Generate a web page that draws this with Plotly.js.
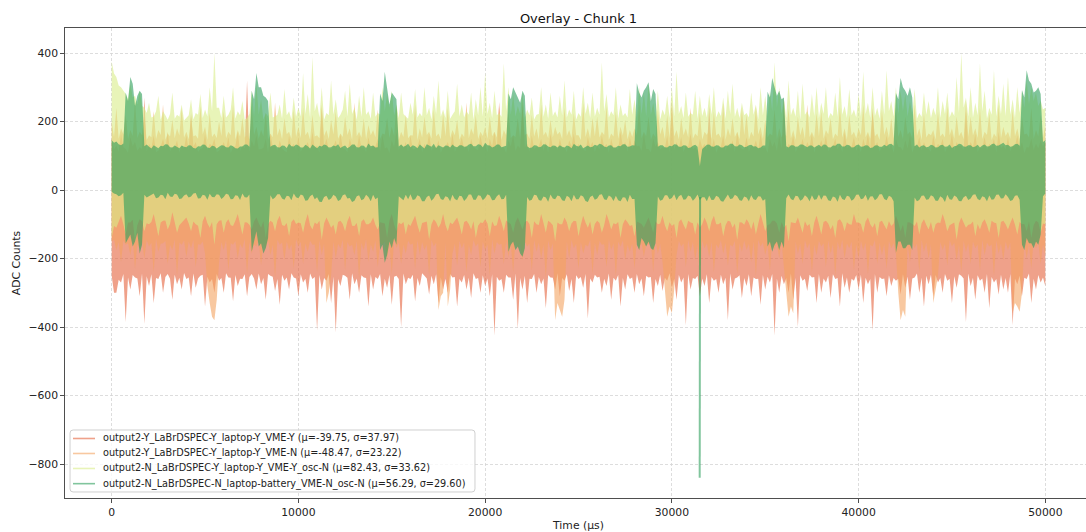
<!DOCTYPE html>
<html><head><meta charset="utf-8">
<script src="https://cdn.plot.ly/plotly-3.0.1.min.js"></script>
<style>html,body{margin:0;padding:0;overflow:hidden;background:#fff}#chart{width:1093px;height:532px}</style>
</head><body><div id="chart"></div><script>
// Time axis (µs): envelope read every 125 µs
const timeUs = [
0,125,250,375,500,625,750,875,1000,1125,1250,1375,1500,1625,1750,1875,
2000,2125,2250,2375,2500,2625,2750,2875,3000,3125,3250,3375,3500,3625,3750,3875,
4000,4125,4250,4375,4500,4625,4750,4875,5000,5125,5250,5375,5500,5625,5750,5875,
6000,6125,6250,6375,6500,6625,6750,6875,7000,7125,7250,7375,7500,7625,7750,7875,
8000,8125,8250,8375,8500,8625,8750,8875,9000,9125,9250,9375,9500,9625,9750,9875,
10000,10125,10250,10375,10500,10625,10750,10875,11000,11125,11250,11375,11500,11625,11750,11875,
12000,12125,12250,12375,12500,12625,12750,12875,13000,13125,13250,13375,13500,13625,13750,13875,
14000,14125,14250,14375,14500,14625,14750,14875,15000,15125,15250,15375,15500,15625,15750,15875,
16000,16125,16250,16375,16500,16625,16750,16875,17000,17125,17250,17375,17500,17625,17750,17875,
18000,18125,18250,18375,18500,18625,18750,18875,19000,19125,19250,19375,19500,19625,19750,19875,
20000,20125,20250,20375,20500,20625,20750,20875,21000,21125,21250,21375,21500,21625,21750,21875,
22000,22125,22250,22375,22500,22625,22750,22875,23000,23125,23250,23375,23500,23625,23750,23875,
24000,24125,24250,24375,24500,24625,24750,24875,25000,25125,25250,25375,25500,25625,25750,25875,
26000,26125,26250,26375,26500,26625,26750,26875,27000,27125,27250,27375,27500,27625,27750,27875,
28000,28125,28250,28375,28500,28625,28750,28875,29000,29125,29250,29375,29500,29625,29750,29875,
30000,30125,30250,30375,30500,30625,30750,30875,31000,31125,31250,31375,31500,31625,31750,31875,
32000,32125,32250,32375,32500,32625,32750,32875,33000,33125,33250,33375,33500,33625,33750,33875,
34000,34125,34250,34375,34500,34625,34750,34875,35000,35125,35250,35375,35500,35625,35750,35875,
36000,36125,36250,36375,36500,36625,36750,36875,37000,37125,37250,37375,37500,37625,37750,37875,
38000,38125,38250,38375,38500,38625,38750,38875,39000,39125,39250,39375,39500,39625,39750,39875,
40000,40125,40250,40375,40500,40625,40750,40875,41000,41125,41250,41375,41500,41625,41750,41875,
42000,42125,42250,42375,42500,42625,42750,42875,43000,43125,43250,43375,43500,43625,43750,43875,
44000,44125,44250,44375,44500,44625,44750,44875,45000,45125,45250,45375,45500,45625,45750,45875,
46000,46125,46250,46375,46500,46625,46750,46875,47000,47125,47250,47375,47500,47625,47750,47875,
48000,48125,48250,48375,48500,48625,48750,48875,49000,49125,49250,49375,49500,49625,49750,49875,
50000];

const seriesNames = [
"output2-Y_LaBrDSPEC-Y_laptop-Y_VME-Y (μ=-39.75, σ=37.97)",
"output2-Y_LaBrDSPEC-Y_laptop-Y_VME-N (μ=-48.47, σ=23.22)",
"output2-N_LaBrDSPEC-Y_laptop-Y_VME-Y_osc-N (μ=82.43, σ=33.62)",
"output2-N_LaBrDSPEC-N_laptop-battery_VME-N_osc-N (μ=56.29, σ=29.60)"];

// Series 1 (VME-Y): upper / lower envelope (ADC counts)
const vmeYHigh = [
150,118,130,112,165,125,120,108,155,128,140,115,125,120,270,112,
135,122,160,110,115,127,150,119,170,113,125,124,145,109,130,121,
160,116,225,126,140,111,120,123,165,117,135,129,150,110,115,125,
140,120,155,108,125,128,170,114,130,121,320,112,145,126,160,118,
120,123,150,109,165,127,130,115,145,122,115,110,160,125,135,117,
155,112,125,128,140,116,170,121,130,109,240,124,150,118,120,127,
145,114,165,122,120,110,150,126,135,117,160,123,125,111,155,120,
130,128,150,113,160,121,125,108,145,125,170,116,135,122,140,112,
160,119,120,127,150,110,135,124,165,115,130,121,145,109,125,126,
140,117,165,112,125,128,155,120,130,111,150,125,120,116,160,122,
135,110,150,126,170,118,257,123,125,108,145,127,160,114,130,121,
257,125,135,112,160,120,125,128,150,115,140,109,165,124,130,117,
150,122,125,110,145,127,165,116,135,121,120,113,155,126,140,111,
130,118,160,125,135,109,150,123,125,117,170,128,140,112,155,120,
145,127,130,114,165,120,120,110,150,126,140,118,125,122,160,108,
262,116,140,123,155,111,130,128,165,119,125,113,150,124,135,117,
245,121,150,109,125,126,160,115,135,122,145,110,170,127,120,118,
155,112,130,125,145,118,165,123,125,108,150,126,140,114,160,121,
270,117,135,128,160,111,125,122,150,116,140,124,165,109,130,125,
145,123,160,113,125,127,150,118,135,110,170,121,130,126,155,115,
130,110,150,124,165,117,240,128,140,112,125,122,160,119,135,108,
150,126,125,115,145,121,160,109,130,127,155,116,140,123,120,112,
160,118,135,127,150,110,125,124,165,114,140,128,130,117,230,121,
140,125,165,111,125,122,155,116,135,126,150,109,170,123,130,118,
155,113,130,127,160,120,140,108,125,124,150,117,135,121,145,126,
140];
const vmeYLow = [
-250,-300,-300,-262,-270,-245,-385,-255,-290,-248,-255,-258,-310,-244,-390,-252,
-280,-246,-330,-257,-260,-243,-300,-254,-245,-259,-320,-247,-275,-256,-290,-242,
-260,-255,-310,-244,-285,-258,-250,-247,-340,-253,-270,-260,-300,-245,-265,-257,
-300,-243,-255,-256,-325,-248,-280,-259,-260,-246,-310,-254,-245,-258,-290,-244,
-275,-257,-320,-245,-250,-253,-295,-260,-335,-247,-265,-255,-290,-243,-255,-258,
-310,-246,-270,-259,-300,-244,-260,-254,-410,-248,-290,-257,-265,-245,-330,-253,
-415,-260,-280,-247,-250,-256,-320,-243,-275,-258,-300,-249,-255,-257,-340,-246,
-290,-254,-260,-245,-310,-259,-285,-248,-335,-253,-250,-260,-400,-244,-275,-256,
-260,-247,-325,-257,-280,-243,-250,-258,-305,-250,-275,-246,-330,-255,-290,-259,
-300,-245,-255,-254,-340,-260,-270,-248,-290,-256,-315,-243,-260,-257,-300,-249,
-280,-258,-310,-246,-425,-253,-265,-260,-300,-247,-255,-255,-320,-244,-405,-257,
-290,-250,-330,-259,-260,-245,-300,-254,-275,-258,-345,-248,-255,-256,-290,-243,
-310,-257,-265,-246,-295,-260,-330,-249,-260,-254,-285,-245,-375,-258,-270,-247,
-255,-253,-300,-259,-280,-244,-320,-256,-265,-248,-340,-257,-290,-246,-260,-255,
-300,-245,-275,-258,-310,-250,-255,-254,-330,-260,-280,-247,-295,-256,-265,-243,
-285,-259,-320,-248,-270,-255,-395,-245,-290,-257,-260,-250,-310,-258,-280,-246,
-330,-254,-265,-260,-300,-247,-275,-256,-380,-244,-290,-258,-255,-249,-315,-257,
-280,-246,-310,-255,-260,-259,-335,-248,-290,-253,-270,-245,-425,-258,-300,-250,
-275,-257,-300,-244,-320,-256,-400,-249,-265,-259,-295,-247,-255,-254,-330,-245,
-300,-258,-270,-250,-315,-246,-260,-257,-340,-243,-285,-255,-300,-259,-265,-248,
-290,-247,-330,-256,-275,-260,-410,-245,-300,-254,-260,-258,-310,-249,-280,-257,
-265,-259,-305,-246,-285,-253,-320,-258,-255,-244,-300,-256,-340,-250,-275,-247,
-310,-248,-270,-257,-300,-245,-265,-259,-330,-252,-285,-246,-250,-258,-385,-244,
-280,-256,-320,-249,-265,-258,-300,-245,-345,-254,-270,-260,-305,-247,-290,-257,
-300,-245,-395,-258,-275,-250,-310,-256,-260,-244,-330,-259,-290,-248,-270,-255,
-280];

// Series 2 (VME-N): upper / lower envelope
const vmeNHigh = [
200,155,240,150,180,162,220,148,175,158,260,152,170,160,215,146,
160,154,230,149,175,161,250,147,165,156,205,151,180,159,240,153,
170,148,215,157,160,150,245,162,185,146,225,155,165,152,200,158,
230,151,170,160,250,147,175,156,210,153,160,149,240,161,185,150,
175,157,225,146,165,154,255,159,180,148,210,163,170,150,235,155,
185,152,240,160,170,147,220,156,160,151,250,158,175,149,205,162,
230,150,165,155,215,161,180,146,255,157,170,153,210,148,190,160,
175,154,235,149,165,162,210,152,185,158,245,147,170,155,220,151,
160,159,250,146,180,153,215,161,170,150,235,156,165,148,225,157,
240,152,175,160,205,147,165,155,255,151,180,162,220,149,170,158,
185,150,215,157,170,153,245,146,175,160,230,152,160,155,210,148,
235,161,165,150,220,156,180,147,250,159,170,151,205,154,185,162,
170,149,240,158,175,152,225,160,160,146,255,155,180,150,210,157,
215,153,170,161,245,147,165,156,230,150,185,159,205,148,175,155,
180,160,250,151,170,157,215,146,165,154,235,162,185,149,220,152,
245,156,175,148,210,160,180,153,240,150,165,157,225,147,170,161,
175,150,230,159,165,152,255,146,180,158,210,155,170,149,240,160,
220,147,170,156,245,162,185,150,205,153,165,159,235,148,180,154,
165,158,240,151,175,146,215,160,185,149,250,155,170,152,225,157,
230,150,175,162,210,148,165,156,245,153,180,147,220,159,170,151,
180,160,250,154,170,150,225,157,165,146,235,161,185,152,210,149,
240,155,175,148,215,162,170,151,250,158,180,146,225,153,165,160,
175,147,230,156,165,153,245,160,180,150,215,157,170,148,260,155,
215,159,180,152,240,149,170,161,225,146,165,155,250,151,185,158,
170,150,235,157,180,147,215,162,165,153,240,149,175,156,220,152,
190];
const vmeNLow = [
-150,-145,-175,-152,-210,-148,-160,-155,-190,-143,-230,-158,-170,-150,-200,-146,
-165,-154,-240,-142,-180,-157,-155,-149,-215,-160,-175,-144,-250,-153,-160,-147,
-195,-151,-170,-145,-225,-158,-160,-150,-185,-280,-330,-370,-380,-320,-210,-152,
-175,-146,-235,-155,-160,-149,-200,-157,-170,-143,-245,-152,-185,-159,-165,-148,
-220,-154,-170,-147,-190,-160,-255,-145,-160,-153,-205,-150,-175,-158,-230,-144,
-165,-151,-215,-156,-180,-148,-160,-159,-240,-146,-190,-155,-330,-300,-250,-150,
-200,-157,-170,-145,-235,-152,-165,-160,-190,-149,-260,-154,-175,-143,-210,-158,
-180,-147,-225,-155,-160,-150,-200,-157,-245,-144,-170,-153,-215,-160,-185,-148,
-160,-156,-230,-146,-190,-152,-175,-159,-250,-145,-165,-154,-350,-310,-300,-151,
-340,-290,-185,-157,-220,-148,-170,-153,-240,-160,-190,-146,-165,-155,-225,-150,
-175,-158,-250,-144,-185,-152,-160,-157,-215,-149,-195,-160,-240,-147,-170,-154,
-205,-151,-165,-156,-235,-145,-180,-153,-200,-159,-255,-148,-175,-155,-380,-330,
-350,-370,-320,-150,-200,-146,-170,-157,-230,-152,-185,-160,-165,-145,-245,-153,
-190,-149,-160,-158,-225,-144,-175,-155,-250,-151,-165,-147,-205,-160,-180,-156,
-230,-146,-175,-154,-195,-159,-160,-150,-240,-147,-185,-157,-210,-300,-370,-340,
-360,-290,-190,-149,-165,-156,-225,-145,-180,-152,-205,-160,-250,-148,-170,-155,
-195,-151,-240,-158,-170,-146,-185,-154,-220,-160,-165,-149,-245,-155,-180,-147,
-175,-157,-210,-150,-250,-145,-165,-153,-190,-159,-235,-148,-175,-156,-200,-152,
-230,-300,-370,-340,-360,-150,-185,-157,-215,-146,-170,-154,-240,-160,-190,-149,
-165,-155,-225,-147,-185,-158,-250,-151,-175,-145,-200,-156,-170,-150,-235,-159,
-200,-148,-175,-154,-245,-160,-165,-146,-215,-153,-190,-157,-230,-149,-170,-155,
-185,-300,-380,-350,-370,-160,-210,-151,-170,-156,-240,-145,-180,-153,-200,-158,
-330,-290,-250,-152,-175,-157,-220,-146,-165,-154,-205,-160,-240,-148,-180,-155,
-215,-150,-170,-158,-235,-145,-190,-153,-165,-159,-250,-147,-185,-156,-205,-150,
-175,-154,-360,-330,-340,-355,-300,-149,-200,-157,-230,-146,-170,-152,-215,-158,
-190];

// Series 3 (laptop-Y, osc-N): upper / lower envelope
const oscHigh = [
375,340,330,305,300,290,280,265,310,270,275,250,290,245,240,225,
255,212,215,230,275,205,230,218,205,222,285,208,220,214,250,203,
210,218,265,206,225,220,280,210,235,215,300,230,400,240,240,210,
275,212,220,235,300,208,230,218,260,205,210,222,290,215,310,220,
265,205,225,215,285,212,215,220,250,208,295,218,230,206,270,214,
240,215,342,222,280,210,388,230,255,212,300,205,225,218,320,220,
265,210,220,235,290,215,310,222,240,205,275,214,300,220,230,208,
285,214,225,220,300,230,280,240,290,218,250,210,285,222,215,208,
255,220,295,212,225,215,300,218,240,206,275,222,320,214,235,210,
290,208,220,230,310,215,250,212,230,220,285,205,265,218,300,215,
342,222,255,210,290,218,225,214,370,230,300,220,280,215,245,222,
285,210,235,218,270,206,220,222,300,214,250,208,285,216,230,212,
275,218,320,212,235,220,290,206,225,214,300,222,255,210,285,215,
240,220,373,230,280,212,230,218,300,208,250,216,225,212,295,220,
265,210,300,222,285,215,310,220,255,212,290,206,235,218,275,210,
300,215,345,222,245,210,285,214,225,220,290,208,275,216,240,212,
280,220,300,212,230,216,270,208,290,222,310,214,240,210,255,218,
225,212,285,220,250,206,300,218,275,214,290,230,373,240,300,222,
265,210,320,218,240,214,290,206,310,220,230,212,280,216,300,210,
255,222,300,208,225,216,285,214,330,220,245,210,295,218,235,212,
280,214,345,222,255,210,300,216,240,208,290,220,350,230,260,215,
300,222,290,230,280,215,260,218,295,208,225,214,285,220,260,210,
240,218,300,210,260,222,285,212,230,216,330,225,400,240,270,214,
300,212,255,218,370,230,290,208,240,220,350,215,275,222,310,216,
330,220,265,210,300,225,290,240,320,250,300,260,285,245,260,235,
240];
const oscLow = [
-140,-105,-110,-93,-75,-100,-130,-95,-95,-87,-150,-103,-85,-91,-120,-97,
-100,-93,-70,-101,-135,-95,-90,-89,-115,-99,-65,-94,-125,-103,-95,-90,
-80,-98,-120,-92,-100,-104,-140,-91,-75,-97,-110,-93,-160,-100,-90,-88,
-125,-95,-85,-103,-105,-90,-70,-99,-130,-94,-95,-101,-115,-92,-80,-97,
-110,-91,-140,-100,-90,-95,-120,-89,-75,-102,-105,-96,-135,-93,-85,-99,
-95,-97,-125,-92,-70,-103,-115,-95,-100,-90,-145,-98,-80,-94,-110,-101,
-130,-93,-90,-99,-120,-91,-75,-104,-105,-96,-135,-92,-85,-100,-100,-95,
-80,-102,-115,-94,-95,-98,-140,-90,-70,-101,-120,-95,-100,-93,-130,-99,
-105,-91,-75,-103,-125,-96,-95,-92,-145,-100,-85,-94,-110,-98,-70,-102,
-120,-95,-100,-90,-80,-101,-130,-93,-90,-99,-115,-91,-140,-104,-95,-96,
-85,-98,-135,-92,-105,-103,-75,-95,-120,-89,-95,-100,-125,-94,-80,-101,
-115,-93,-90,-99,-140,-91,-100,-102,-70,-96,-125,-90,-95,-103,-150,-95,
-100,-100,-80,-94,-120,-98,-90,-91,-135,-101,-75,-95,-110,-92,-130,-99,
-90,-96,-125,-103,-70,-90,-115,-97,-100,-93,-140,-100,-85,-94,-105,-102,
-135,-92,-95,-99,-110,-95,-80,-101,-125,-91,-100,-98,-75,-103,-120,-94,
-105,-99,-140,-93,-85,-102,-115,-90,-95,-97,-130,-94,-110,-100,-80,-96,
-120,-91,-75,-100,-100,-95,-135,-103,-90,-92,-110,-98,-145,-94,-95,-101,
-85,-96,-115,-92,-130,-99,-70,-95,-120,-102,-100,-90,-90,-98,-125,-93,
-110,-101,-150,-94,-95,-97,-80,-103,-125,-91,-105,-99,-135,-95,-75,-100,
-130,-93,-90,-98,-115,-102,-140,-90,-85,-96,-120,-94,-100,-101,-70,-95,
-95,-99,-125,-92,-80,-100,-110,-96,-135,-93,-90,-103,-115,-91,-105,-98,
-75,-95,-120,-101,-140,-94,-95,-99,-105,-92,-130,-97,-85,-102,-115,-93,
-125,-100,-95,-96,-70,-91,-120,-103,-100,-95,-145,-98,-80,-94,-110,-101,
-100,-92,-135,-99,-115,-95,-85,-102,-125,-90,-95,-97,-140,-93,-90,-100,
-115,-96,-80,-101,-130,-93,-100,-99,-120,-92,-140,-103,-90,-95,-125,-98,
-100];

// Series 4 (laptop-battery, osc-N): upper / lower envelope
const batteryHigh = [
145,138,142,134,131,136,285,260,330,310,245,275,290,280,128,133,
126,121,131,127,122,129,128,134,133,125,124,130,127,122,130,126,
125,131,130,123,121,128,127,133,132,124,123,129,128,121,126,131,
130,125,124,131,128,122,121,127,127,133,133,126,290,265,342,300,
300,275,270,260,126,131,132,125,124,130,129,123,135,128,127,133,
130,124,124,132,128,121,133,127,122,129,127,133,131,124,125,130,
128,134,123,127,130,122,126,133,133,125,124,130,129,123,136,128,
130,124,125,282,260,345,300,250,285,275,265,127,133,126,129,135,
125,131,128,122,133,127,121,134,129,126,135,123,131,128,124,130,
129,124,133,127,125,131,131,126,127,133,135,128,128,134,132,125,
138,131,130,124,127,133,133,125,126,129,282,265,300,285,270,255,
290,275,128,123,124,131,130,125,126,134,133,127,125,130,129,124,
131,126,124,130,128,122,135,129,127,133,122,127,130,125,126,132,
129,135,133,127,125,130,131,124,124,129,128,134,134,126,127,131,
130,312,285,270,290,300,315,260,295,280,126,131,131,125,124,129,
128,134,133,126,126,131,130,123,124,129,132,126,70,120,127,132,
133,127,126,131,130,124,124,130,129,135,135,128,127,133,131,125,
126,131,132,127,128,122,124,130,130,287,270,327,300,275,290,265,
270,128,124,131,131,126,127,133,133,128,125,130,130,124,127,132,
126,133,132,125,124,130,129,135,135,127,127,132,131,124,125,131,
133,126,127,131,130,123,124,130,131,126,126,132,128,134,135,129,
283,265,327,300,290,275,300,270,128,133,124,129,131,125,126,132,
130,124,125,131,132,126,127,133,123,128,129,135,134,127,126,131,
131,125,127,132,124,130,133,127,128,134,136,129,130,135,138,131,
132,126,128,134,135,129,292,270,350,320,310,285,290,300,280,140,
145];
const batteryLow = [
-5,-10,-12,-18,-15,-8,-155,-140,-130,-165,-150,-125,-185,-160,-14,-22,
-18,-12,-10,-24,-22,-14,-15,-27,-8,-19,-20,-11,-13,-26,-25,-16,
-12,-22,-19,-10,-9,-25,-24,-14,-16,-28,-11,-20,-21,-12,-14,-26,
-20,-11,-13,-27,-26,-15,-17,-29,-10,-21,-22,-13,-180,-150,-120,-165,
-155,-185,-170,-140,-15,-27,-22,-12,-12,-25,-28,-17,-18,-30,-10,-21,
-24,-13,-16,-31,-30,-18,-13,-27,-21,-34,-35,-20,-17,-29,-25,-14,
-19,-32,-28,-15,-12,-25,-23,-35,-31,-18,-15,-30,-26,-14,-20,-33,
-14,-27,-22,-175,-160,-212,-190,-150,-170,-140,-160,-18,-25,-30,-14,-27,
-12,-29,-27,-15,-19,-33,-33,-20,-16,-31,-24,-12,-11,-26,-29,-18,
-21,-33,-14,-26,-30,-17,-18,-32,-25,-13,-13,-28,-28,-15,-17,-30,
-23,-12,-16,-30,-29,-18,-12,-27,-26,-14,-180,-160,-150,-175,-165,-185,
-195,-170,-20,-31,-28,-14,-15,-29,-31,-19,-22,-34,-13,-25,-27,-16,
-18,-30,-32,-17,-21,-33,-14,-27,-27,-15,-19,-32,-35,-20,-16,-28,
-25,-14,-12,-27,-29,-16,-20,-32,-17,-30,-33,-21,-22,-35,-14,-26,
-26,-160,-175,-140,-150,-165,-150,-170,-175,-155,-19,-31,-28,-15,-15,-27,
-23,-12,-30,-18,-14,-28,-27,-16,-19,-31,-24,-13,-30,-21,-21,-33,
-16,-29,-28,-17,-20,-32,-34,-22,-13,-26,-25,-14,-18,-30,-31,-19,
-22,-33,-15,-27,-29,-18,-19,-31,-26,-165,-150,-180,-160,-150,-175,-150,
-170,-24,-13,-26,-30,-17,-18,-31,-27,-15,-21,-33,-15,-28,-27,-13,
-28,-16,-17,-30,-32,-19,-22,-34,-14,-26,-29,-17,-19,-31,-26,-14,
-13,-27,-25,-14,-31,-19,-18,-30,-24,-12,-12,-26,-30,-17,-20,-33,
-183,-150,-150,-170,-170,-160,-160,-175,-22,-33,-29,-17,-16,-28,-27,-15,
-19,-31,-31,-18,-23,-35,-14,-27,-28,-16,-20,-32,-33,-21,-17,-29,
-25,-14,-12,-26,-30,-18,-21,-33,-16,-28,-27,-14,-13,-25,-24,-12,
-20,-32,-29,-17,-15,-28,-160,-175,-140,-155,-155,-170,-150,-160,-130,-18,
-10];
// Series 4 glitch near 31.5 ms
const glitchTime = [31510, 31500, 31490];
const glitchAdc = [-20, -650, -840];

const colors = ['rgba(228,98,60,0.6)','rgba(244,164,96,0.6)','rgba(217,237,137,0.6)','rgba(45,158,92,0.6)'];
const bands = [[vmeYLow, vmeYHigh],[vmeNLow, vmeNHigh],[oscLow, oscHigh],[batteryLow, batteryHigh]];

const traces = [];
bands.forEach((b, i) => {
  traces.push({x: timeUs, y: b[0], type:'scatter', mode:'lines', line:{width:0, color:colors[i]}, hoverinfo:'skip', showlegend:false});
  traces.push({x: timeUs, y: b[1], type:'scatter', mode:'lines', fill:'tonexty', fillcolor:colors[i], line:{width:0, color:colors[i]}, hoverinfo:'skip', showlegend:false});
});
traces.push({x: glitchTime, y: glitchAdc, type:'scatter', mode:'lines', line:{width:2, color:colors[3]}, hoverinfo:'skip', showlegend:false});

// Matplotlib-style legend (compact rows) built from paper-positioned shapes and text
const lgX0 = 0.0049, lgX1 = 0.3992, lgY0 = 0.0128, lgY1 = 0.1447, rx = 0.003, ry = 0.0065;
const shapes = [{
  type:'path', xref:'paper', yref:'paper', layer:'above',
  path:`M ${lgX0+rx},${lgY0} L ${lgX1-rx},${lgY0} Q ${lgX1},${lgY0} ${lgX1},${lgY0+ry} L ${lgX1},${lgY1-ry} Q ${lgX1},${lgY1} ${lgX1-rx},${lgY1} L ${lgX0+rx},${lgY1} Q ${lgX0},${lgY1} ${lgX0},${lgY1-ry} L ${lgX0},${lgY0+ry} Q ${lgX0},${lgY0} ${lgX0+rx},${lgY0} Z`,
  fillcolor:'rgba(255,255,255,0.8)', line:{color:'#d0d0d0', width:1}
}];
const annotations = [];
const rowY = [0.1266, 0.0947, 0.0628, 0.0305];
seriesNames.forEach((n, i) => {
  shapes.push({type:'line', xref:'paper', yref:'paper', layer:'above', x0:0.0078, x1:0.0292, y0:rowY[i], y1:rowY[i], line:{color:colors[i], width:1.6}});
  annotations.push({xref:'paper', yref:'paper', x:0.0355, y:rowY[i], xanchor:'left', yanchor:'middle', showarrow:false, text:n, font:{family:'DejaVu Sans', size:9.7, color:'#222'}});
});

const axisCommon = {
  showline:true, linecolor:'#222', linewidth:0.8, mirror:true,
  ticks:'outside', ticklen:4, tickwidth:0.8, tickcolor:'#222',
  showgrid:true, gridcolor:'#d4d4d4', griddash:'3px,2px', gridwidth:0.8,
  zeroline:false, automargin:false,
  tickfont:{family:'DejaVu Sans', size:10.8, color:'#222'}
};
const layout = {
  width:1093, height:532,
  margin:{l:65, r:1, t:28, b:34},
  paper_bgcolor:'#fff', plot_bgcolor:'#fff',
  font:{family:'DejaVu Sans', color:'#222'},
  title:{text:'Overlay - Chunk 1', font:{family:'DejaVu Sans', size:13, color:'#111'}, x:0.5, xref:'paper', xanchor:'center', y:0.966, yref:'container', yanchor:'middle'},
  xaxis:Object.assign({}, axisCommon, {range:[-2500, 52500], tickvals:[0,10000,20000,30000,40000,50000], tickformat:'d', title:{text:'Time (µs)', font:{size:10.8}, standoff:4}}),
  yaxis:Object.assign({}, axisCommon, {range:[-899, 473], tick0:0, dtick:200, title:{text:'ADC Counts', font:{size:10.8}, standoff:5}}),
  shapes: shapes,
  annotations: annotations,
  showlegend:false
};
Plotly.newPlot('chart', traces, layout, {displayModeBar:false, staticPlot:true});
</script></body></html>
